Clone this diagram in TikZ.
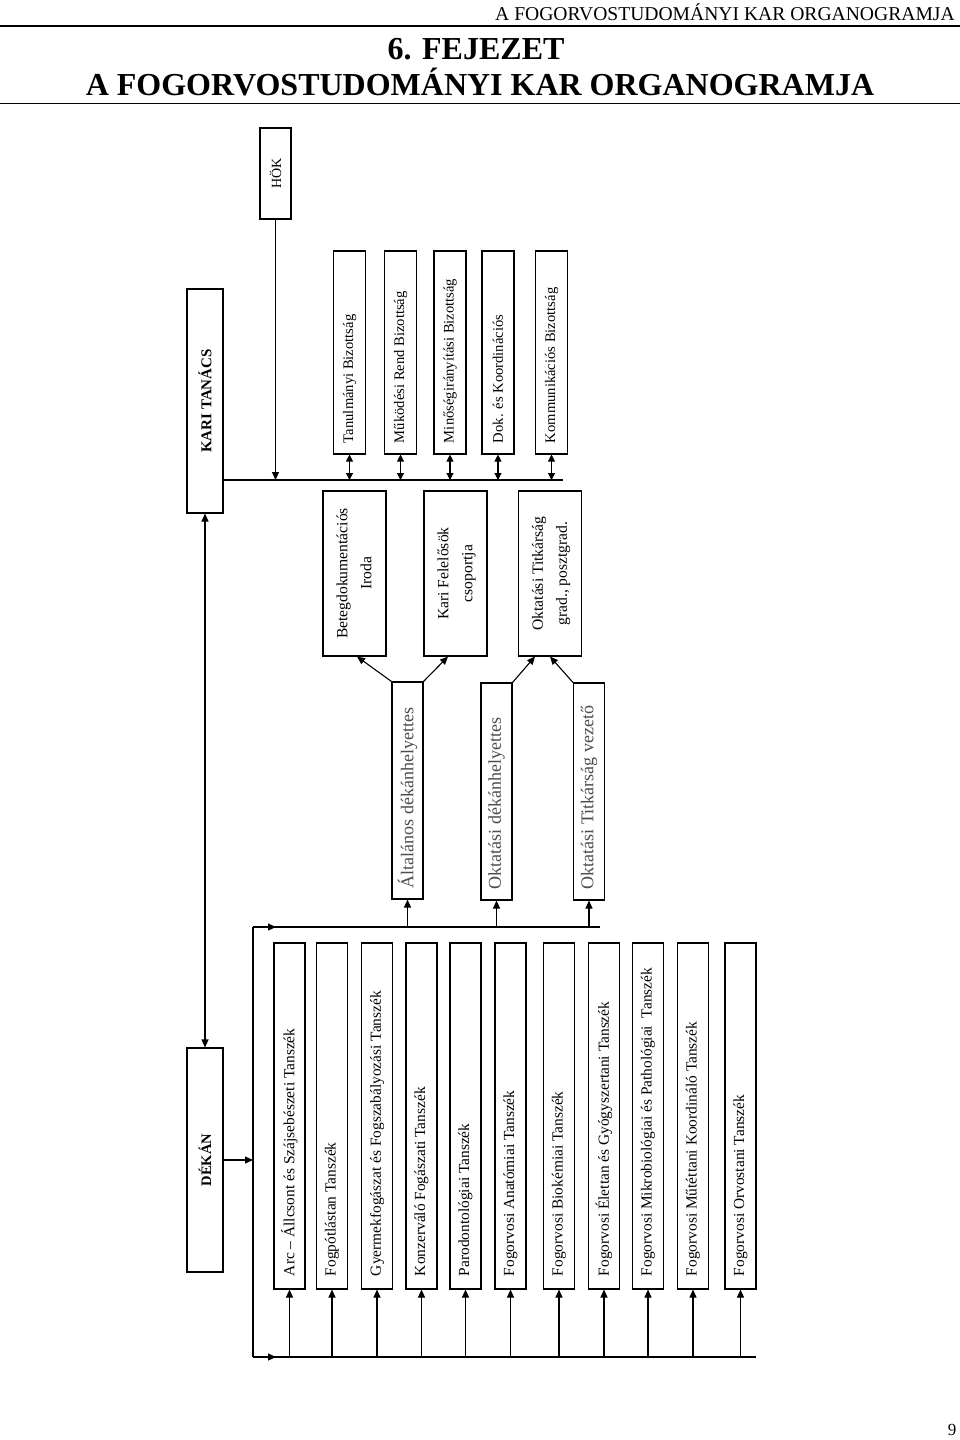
\documentclass[tikz,border=0pt]{standalone}
\usepackage{fontspec}
\setmainfont{Liberation Serif}
\usetikzlibrary{arrows.meta,calc}
\newcommand{\vL}[2]{\rotatebox{90}{\makebox[#1][l]{#2}}}
\newcommand{\vC}[1]{\rotatebox{90}{#1}}
\newcommand{\vTwo}[2]{\rotatebox{90}{\begin{tabular}{@{}c@{}}#1\\#2\end{tabular}}}
\begin{document}
\begin{tikzpicture}[x=1pt,y=-1pt,
  box/.style={draw, line width=1.1pt, inner sep=0pt, fill=white},
  ln/.style={line width=1.1pt},
  arr/.style={ln,-{Triangle[length=8pt,width=7pt]}},
  dbl/.style={ln,{Triangle[length=7pt,width=7pt]}-{Triangle[length=7pt,width=7pt]}},
  commbox/.style={box, minimum width=32pt, minimum height=203pt, font=\fontsize{14.6}{17}\selectfont},
  midbox/.style={box, minimum width=63pt, minimum height=165pt, font=\fontsize{15.6}{24}\selectfont},
  depbox/.style={box, minimum width=31pt, minimum height=217pt, font=\fontsize{18}{21}\selectfont, text=black!70},
  deptbox/.style={box, minimum width=31pt, minimum height=346pt, font=\fontsize{15.4}{18}\selectfont},
  mainbox/.style={box, minimum width=36pt, minimum height=224pt, font=\fontsize{15}{18}\selectfont\bfseries},
  hdr/.style={inner sep=0pt}
]
\useasboundingbox (0,0) rectangle (960,1440);

% ---- page header ----
\node[hdr, anchor=base east] (runhead) at (955,20) {\fontsize{19.6}{22}\selectfont A FOGORVOSTUDOMÁNYI KAR ORGANOGRAMJA};
\coordinate (r1a) at (0,26); \coordinate (r1b) at (960,26);
\draw[line width=2pt] (r1a) -- (r1b);
\node[hdr, anchor=base] (chap) at (476,59) {\fontsize{32}{36}\selectfont\bfseries 6. FEJEZET};
\node[hdr, anchor=base] (title) at (480,95) {\fontsize{32}{36}\selectfont\bfseries A FOGORVOSTUDOMÁNYI KAR ORGANOGRAMJA};
\coordinate (r2a) at (0,103.5); \coordinate (r2b) at (960,103.5);
\draw[line width=0.9pt] (r2a) -- (r2b);
\node[hdr] (pagenum) at (952,1430) {\fontsize{17}{20}\selectfont 9};

% ---- top part ----
\node[box, minimum width=31pt, minimum height=91pt, font=\fontsize{14}{16}\selectfont] (hok) at (275.5,173.5) {\vC{HÖK}};
\node[mainbox] (kari) at (205,401) {\vC{KARI TANÁCS}};

\node[commbox] (c1) at (349.5,352.5) {\vL{181pt}{Tanulmányi Bizottság}};
\node[commbox] (c2) at (400.5,352.5) {\vL{181pt}{Működési Rend Bizottság}};
\node[commbox] (c3) at (450,352.5)   {\vL{181pt}{Minőségirányítási Bizottság}};
\node[commbox] (c4) at (498,352.5)   {\vL{181pt}{Dok. és Koordinációs}};
\node[commbox] (c5) at (551.5,352.5) {\vL{181pt}{Kommunikációs Bizottság}};

\coordinate (kl1) at (563,480);
\draw[ln] (kari.east |- kl1) -- (kl1);
\draw[arr] (hok.south) -- (hok.south |- kl1);
\foreach \c in {c1,c2,c3,c4,c5} \draw[dbl] (\c.south) -- (\c.south |- kl1);

% ---- offices ----
\node[midbox] (m1) at (354.5,573.5) {\vTwo{Betegdokumentációs}{Iroda}};
\node[midbox] (m2) at (455.5,573.5) {\vTwo{Kari Felelősök}{csoportja}};
\node[midbox] (m3) at (550,573.5)   {\vTwo{Oktatási Titkárság}{grad., posztgrad.}};

% ---- deputies ----
\node[depbox] (d1) at (407.5,790.5) {\vL{195pt}{Általános dékánhelyettes}};
\node[depbox] (d2) at (496.5,791.5) {\vL{195pt}{Oktatási dékánhelyettes}};
\node[depbox] (d3) at (589,791.5)   {\vL{195pt}{Oktatási Titkárság vezető}};

\draw[arr] (d1.north west) -- ([xshift=2.5pt]m1.south);
\draw[arr] (d1.north east) -- ([xshift=-7.5pt]m2.south);
\draw[arr] (d2.north east) -- ([xshift=-15pt]m3.south);
\draw[arr] (d3.north west) -- ([xshift=0pt]m3.south);

% ---- dean ----
\node[mainbox, font=\fontsize{14.5}{17}\selectfont\bfseries] (dekan) at (205,1160) {\vC{DÉKÁN}};
\draw[{Triangle[length=8pt,width=7pt]}-{Triangle[length=8pt,width=7pt]}, ln] (kari.south) -- (dekan.north);

\coordinate (sp0) at (253,927);
\coordinate (sp1) at (253,1357);
\coordinate (tl1) at (600,927);
\coordinate (bl1) at (756,1357);
\draw[ln] (sp0) -- (sp1);
\draw[ln] (sp0) -- (tl1);
\draw[ln] (sp1) -- (bl1);
\draw[arr] (sp0) -- ++(23,0);
\draw[arr] (sp1) -- ++(23,0);
\draw[arr] (dekan.east) -- (dekan.east -| sp0);
\foreach \d in {d1,d2,d3} \draw[arr] (\d.south |- sp0) -- (\d.south);

% ---- departments ----
\foreach \x/\t [count=\i] in {
  289.5/{Arc – Állcsont és Szájsebészeti Tanszék},
  332/{Fogpótlástan Tanszék},
  377/{Gyermekfogászat és Fogszabályozási Tanszék},
  421.5/{Konzerváló Fogászati Tanszék},
  465.5/{Parodontológiai Tanszék},
  510.5/{Fogorvosi Anatómiai Tanszék},
  559/{Fogorvosi Biokémiai Tanszék},
  604/{Fogorvosi Élettan és Gyógyszertani Tanszék},
  648/{Fogorvosi Mikrobiológiai és Pathológiai\ \ Tanszék},
  693/{Fogorvosi Műtéttani Koordináló Tanszék},
  740.5/{Fogorvosi Orvostani Tanszék}}
{
  \node[deptbox] (t\i) at (\x,1116) {\vL{320pt}{\t}};
}
\foreach \i in {1,...,11} \draw[arr] (t\i.south |- sp1) -- (t\i.south);
\end{tikzpicture}
\end{document}
